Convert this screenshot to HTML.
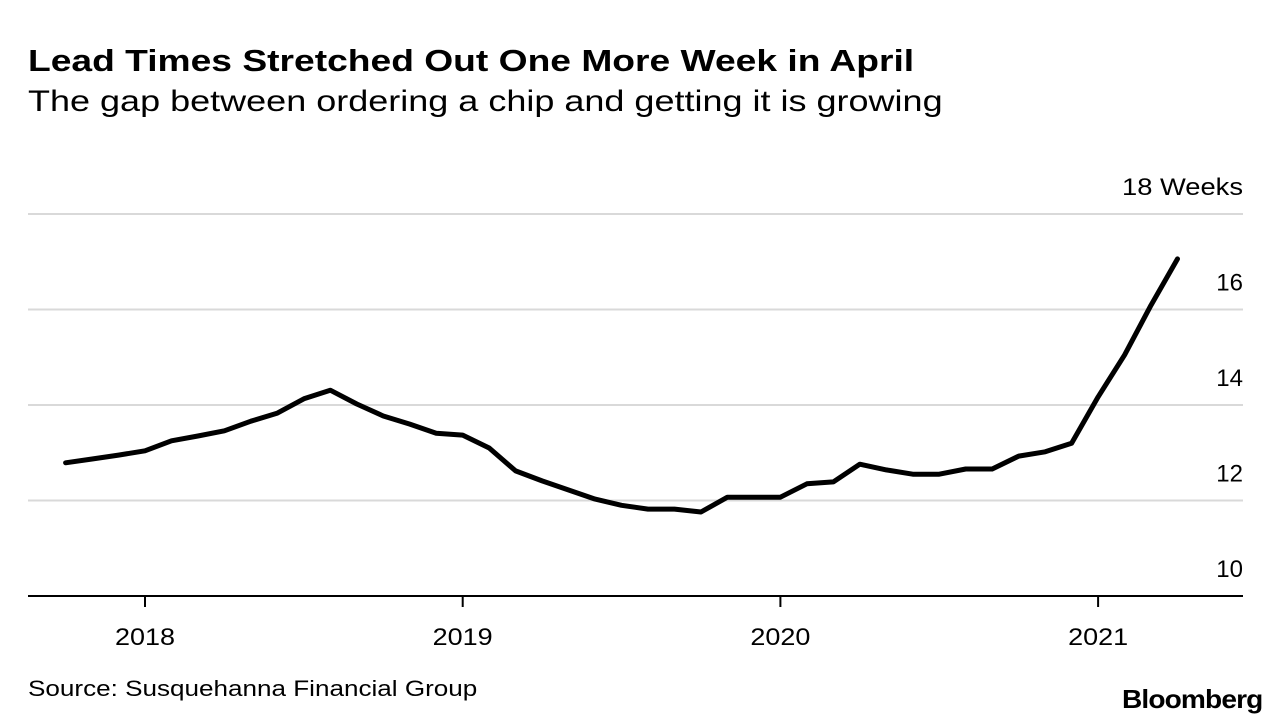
<!DOCTYPE html>
<html><head><meta charset="utf-8"><style>
body{margin:0;background:#fff;font-family:"Liberation Sans",Arial,sans-serif;}
#wrap{position:relative;width:1288px;height:728px;overflow:hidden;}
.t{position:absolute;white-space:nowrap;color:#000;transform-origin:left top;}
</style></head><body>
<div id="wrap">
<div class="t" style="left:28px;top:43px;font-size:31px;font-weight:bold;transform:scaleX(1.2);">Lead Times Stretched Out One More Week in April</div>
<div class="t" style="left:28px;top:85px;font-size:30px;transform:scaleX(1.2);">The gap between ordering a chip and getting it is growing</div>
<svg id="chart" width="1288" height="728" style="position:absolute;left:0;top:0"></svg>
<div class="t" style="left:28px;top:676px;font-size:22px;transform:scaleX(1.185);">Source: Susquehanna Financial Group</div>
<div class="t" style="left:1122px;top:684px;font-size:26px;font-weight:bold;letter-spacing:-0.8px;transform:scaleX(1.08);">Bloomberg</div>
</div>
<script>
const values=[12.79,12.87,12.95,13.04,13.25,13.35,13.46,13.66,13.83,14.13,14.31,14.02,13.77,13.6,13.41,13.37,13.1,12.62,12.41,12.22,12.03,11.9,11.82,11.82,11.76,12.07,12.07,12.07,12.35,12.39,12.76,12.64,12.55,12.55,12.66,12.66,12.93,13.02,13.2,14.17,15.05,16.09,17.06];
const startMonth=-3; // Oct 2017 relative to Jan 2018
const yTicks=[10,12,14,16,18];
const yTickLabels=["10","12","14","16","18 Weeks"];
const years=[2018,2019,2020,2021];
const NS="http://www.w3.org/2000/svg";
const svg=document.getElementById('chart');
const x=m=>145+m*(317.7/12);
const y=v=>596-(v-10)*47.75;
function mk(t,a){const e=document.createElementNS(NS,t);for(const k in a)e.setAttribute(k,a[k]);svg.appendChild(e);return e;}
yTicks.forEach((v,i)=>{
 if(v!==10){const g=mk('line',{x1:28,x2:1243,y1:y(v),y2:y(v),stroke:'#d9d9d9','stroke-width':2});
 
 }
 const t=mk('text',{x:1243,y:y(v)-19,'text-anchor':'end','font-size':24,'font-family':'Liberation Sans, sans-serif',fill:'#000'});
 t.textContent=yTickLabels[i];
 if(v===18){t.setAttribute('textLength',121);t.setAttribute('lengthAdjust','spacingAndGlyphs');}
 
 
});
const ax=mk('line',{x1:28,x2:1243,y1:596,y2:596,stroke:'#000','stroke-width':2});


years.forEach((yr,i)=>{
 const xx=x(i*12);
 const tk=mk('line',{x1:xx,x2:xx,y1:596,y2:607,stroke:'#000','stroke-width':2});
 
 
 const t=mk('text',{x:xx,y:645,'text-anchor':'middle','font-size':24,'font-family':'Liberation Sans, sans-serif',fill:'#000',textLength:60,lengthAdjust:'spacingAndGlyphs'});
 t.textContent=yr;
 
 
});
const d=values.map((v,i)=>(i?'L':'M')+x(startMonth+i).toFixed(1)+','+y(v).toFixed(1)).join(' ');
const p=mk('path',{d:d,fill:'none',stroke:'#000','stroke-width':5,'stroke-linejoin':'round','stroke-linecap':'round'});


</script>
</body></html>
